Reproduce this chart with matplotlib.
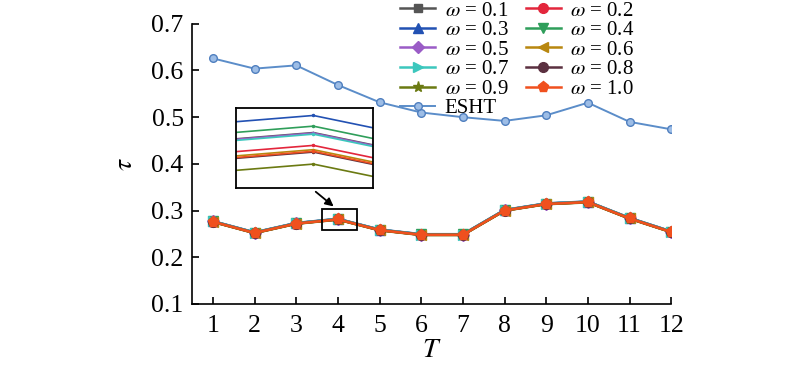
import matplotlib
matplotlib.use("Agg")
import matplotlib.pyplot as plt
from matplotlib.patches import Rectangle

plt.rcParams['font.family'] = ['Liberation Serif', 'DejaVu Serif']
plt.rcParams['mathtext.fontset'] = 'stix'

T = [1, 2, 3, 4, 5, 6, 7, 8, 9, 10, 11, 12]

w01 = [0.27670, 0.25272, 0.27269, 0.28170, 0.25871, 0.24872, 0.24869, 0.30072, 0.31470, 0.31871, 0.28369, 0.25472]
w02 = [0.27622, 0.25221, 0.27223, 0.28122, 0.25822, 0.24821, 0.24823, 0.30022, 0.31421, 0.31822, 0.28322, 0.25421]
w03 = [0.27734, 0.25335, 0.27334, 0.28234, 0.25935, 0.24933, 0.24934, 0.30135, 0.31534, 0.31935, 0.28434, 0.25535]
w04 = [0.27694, 0.25295, 0.27294, 0.28194, 0.25894, 0.24894, 0.24895, 0.30094, 0.31494, 0.31894, 0.28395, 0.25494]
w05 = [0.27668, 0.25268, 0.27268, 0.28168, 0.25868, 0.24868, 0.24868, 0.30068, 0.31468, 0.31868, 0.28368, 0.25468]
w06 = [0.27606, 0.25206, 0.27206, 0.28106, 0.25806, 0.24806, 0.24806, 0.30006, 0.31406, 0.31806, 0.28306, 0.25406]
w07 = [0.27664, 0.25264, 0.27264, 0.28164, 0.25864, 0.24864, 0.24864, 0.30064, 0.31464, 0.31864, 0.28364, 0.25464]
w08 = [0.27597, 0.25197, 0.27197, 0.28097, 0.25797, 0.24797, 0.24797, 0.29997, 0.31397, 0.31797, 0.28297, 0.25397]
w09 = [0.27552, 0.25152, 0.27152, 0.28052, 0.25752, 0.24752, 0.24752, 0.29952, 0.31352, 0.31752, 0.28252, 0.25352]
w10 = [0.27600, 0.25200, 0.27200, 0.28100, 0.25800, 0.24800, 0.24800, 0.30000, 0.31400, 0.31800, 0.28300, 0.25400]
esht = [0.626, 0.604, 0.611, 0.569, 0.532, 0.510, 0.500, 0.492, 0.504, 0.531, 0.490, 0.474]

omega_labels = ['0.1', '0.2', '0.3', '0.4', '0.5', '0.6', '0.7', '0.8', '0.9', '1.0']
omega_series = [w01, w02, w03, w04, w05, w06, w07, w08, w09, w10]
colors = ['#555555', '#e3263c', '#2251b3', '#2f9e5a', '#9a5cc6', '#b8870f',
          '#3cc7bd', '#5b3040', '#6b7a12', '#f0501e']
markers = ['s', 'o', '^', 'v', 'D', '<', '>', 'o', '*', 'p']
msizes = [6, 7, 7, 7, 6, 7, 7, 7, 8, 8]

fig = plt.figure(figsize=(8.0, 3.78), dpi=100)
ax = fig.add_axes([0.24, 0.196, 0.599, 0.741])

handles = {}
for lab, ys, c, m, ms in zip(omega_labels, omega_series, colors, markers, msizes):
    h, = ax.plot(T, ys, color=c, marker=m, markersize=ms, linewidth=1.8,
                 label=r'$\omega$ = ' + lab)
    handles[lab] = h
he, = ax.plot(T, esht, color='#5b8dc9', marker='o', markersize=5.5,
              markerfacecolor='#9dbde6', markeredgecolor='#4f7fbf',
              linewidth=1.4, label='ESHT')

ax.set_xlim(0.5, 12)
ax.set_ylim(0.1, 0.7)
ax.set_xticks(T)
ax.set_yticks([0.1, 0.2, 0.3, 0.4, 0.5, 0.6, 0.7])
ax.set_yticklabels(['0.1', '0.2', '0.3', '0.4', '0.5', '0.6', '0.7'])
ax.tick_params(direction='in', labelsize=18.5, length=5, width=1.2)
ax.tick_params(axis='x', pad=8)
ax.tick_params(axis='y', pad=6)
for s in ['top', 'right']:
    ax.spines[s].set_visible(False)
for s in ['left', 'bottom']:
    ax.spines[s].set_linewidth(1.2)
ax.set_xlabel(r'$T$', fontsize=20, labelpad=1)
ax.set_ylabel(r'$\tau$', fontsize=20, labelpad=10)

# zoom rectangle
rect = Rectangle((3.62, 0.259), 0.84, 0.045, fill=False, edgecolor='black', linewidth=1.3, zorder=5)
ax.add_patch(rect)
ax.annotate('', xy=(3.95, 0.305), xycoords='data',
            xytext=(0.392, 1 - 190 / 378), textcoords='figure fraction',
            arrowprops=dict(arrowstyle='-|>', color='black', lw=1.3, mutation_scale=12))

# inset
axi = fig.add_axes([0.295, 0.503, 0.171, 0.212])
for ys, c in zip(omega_series, colors):
    axi.plot(T, ys, color=c, marker='o', markersize=1.5, linewidth=1.2)
axi.set_xlim(3.974, 4.02)
axi.set_ylim(0.27963, 0.28263)
axi.set_xticks([])
axi.set_yticks([])
for s in axi.spines.values():
    s.set_linewidth(1.3)

order = ['0.1', '0.3', '0.5', '0.7', '0.9']
order2 = ['0.2', '0.4', '0.6', '0.8', '1.0']
hl = [handles[k] for k in order] + [he] + [handles[k] for k in order2]
fig.legend(handles=hl, labels=[h.get_label() for h in hl], ncol=2, frameon=False,
           loc='upper left', bbox_to_anchor=(0.487, 1.025), fontsize=15,
           handlelength=1.7, labelspacing=0.0, columnspacing=0.8, handletextpad=0.45,
           borderpad=0.0)

fig.savefig('out.png', dpi=100)
